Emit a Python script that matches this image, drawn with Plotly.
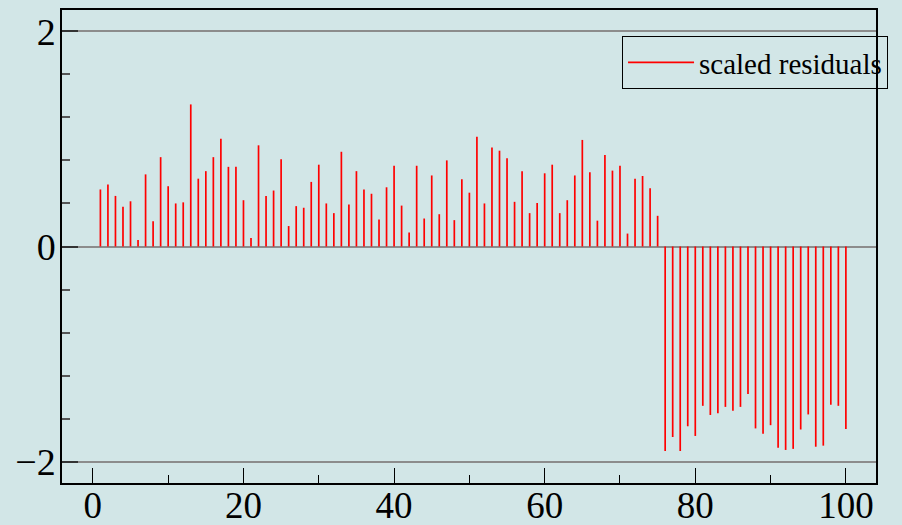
import plotly.graph_objects as go

# index of each residual
index = list(range(1, 101))

# scaled residual values
residuals = [
    0.53, 0.575, 0.47, 0.37, 0.42, 0.06, 0.67, 0.235, 0.83, 0.56,
    0.40, 0.41, 1.32, 0.63, 0.70, 0.83, 1.00, 0.74, 0.74, 0.43,
    0.08, 0.94, 0.47, 0.52, 0.81, 0.19, 0.375, 0.36, 0.60, 0.76,
    0.40, 0.31, 0.88, 0.39, 0.70, 0.53, 0.49, 0.25, 0.55, 0.75,
    0.38, 0.13, 0.75, 0.26, 0.66, 0.30, 0.80, 0.245, 0.625, 0.50,
    1.02, 0.40, 0.92, 0.89, 0.82, 0.415, 0.70, 0.31, 0.405, 0.68,
    0.76, 0.31, 0.43, 0.66, 0.99, 0.69, 0.24, 0.85, 0.705, 0.75,
    0.12, 0.63, 0.655, 0.54, 0.285, -1.90, -1.77, -1.90, -1.67, -1.76,
    -1.48, -1.565, -1.55, -1.49, -1.525, -1.49, -1.37, -1.69, -1.74, -1.66,
    -1.87, -1.89, -1.88, -1.70, -1.56, -1.86, -1.85, -1.47, -1.48, -1.695,
]

series_name = "scaled residuals"
x_tick_vals = [0, 20, 40, 60, 80, 100]
y_tick_vals = [-2, 0, 2]
y_tick_text = ["\u22122", "0", "2"]

# build impulse (stem) paths from the data
sx, sy = [], []
for xi, yi in zip(index, residuals):
    sx += [xi, xi, None]
    sy += [0, yi, None]

BG = "#d2e6e7"
FONT = "Liberation Serif"

fig = go.Figure()
fig.add_trace(go.Scatter(
    x=sx, y=sy, mode="lines", name=series_name,
    line=dict(color="#ff0000", width=1.7),
    showlegend=True,
))

fig.update_layout(
    width=902, height=525,
    paper_bgcolor=BG, plot_bgcolor=BG,
    margin=dict(l=62, r=26, t=10, b=42, autoexpand=False),
    font=dict(family=FONT, size=38, color="black"),
    showlegend=True,
    legend=dict(
        x=0.688, y=0.945, xanchor="left", yanchor="top",
        bgcolor="rgba(0,0,0,0)", bordercolor="black", borderwidth=1,
        font=dict(family=FONT, size=29, color="black"),
        itemwidth=66,
    ),
    xaxis=dict(
        range=[-4.1, 104.0], automargin=False,
        tickvals=x_tick_vals,
        ticks="inside", ticklen=15, tickwidth=1, tickcolor="black",
        minor=dict(dtick=10, tick0=0, ticks="inside", ticklen=8, tickcolor="black", tickwidth=1),
        showline=True, linecolor="black", linewidth=1.5, mirror=True,
        showgrid=False, zeroline=False,
        ticklabelstandoff=-11,
        tickfont=dict(family=FONT, size=37, color="black"),
    ),
    yaxis=dict(
        range=[-2.197, 2.197], automargin=False,
        tickvals=y_tick_vals, ticktext=y_tick_text,
        ticks="inside", ticklen=16, tickwidth=1.5, tickcolor="#333333",
        minor=dict(dtick=0.4, tick0=0, ticks="inside", ticklen=8, tickcolor="#555555", tickwidth=1.5),
        showline=True, linecolor="black", linewidth=1.5, mirror=True,
        showgrid=True, gridcolor="#8c8c8c", gridwidth=2,
        zeroline=False,
        ticklabelstandoff=-3,
        tickfont=dict(family=FONT, size=38, color="black"),
    ),
)

fig.write_html(
    "out.html",
    config={"displayModeBar": False},
    post_script="document.body.style.margin='0';document.body.style.background='%s';" % BG,
)
